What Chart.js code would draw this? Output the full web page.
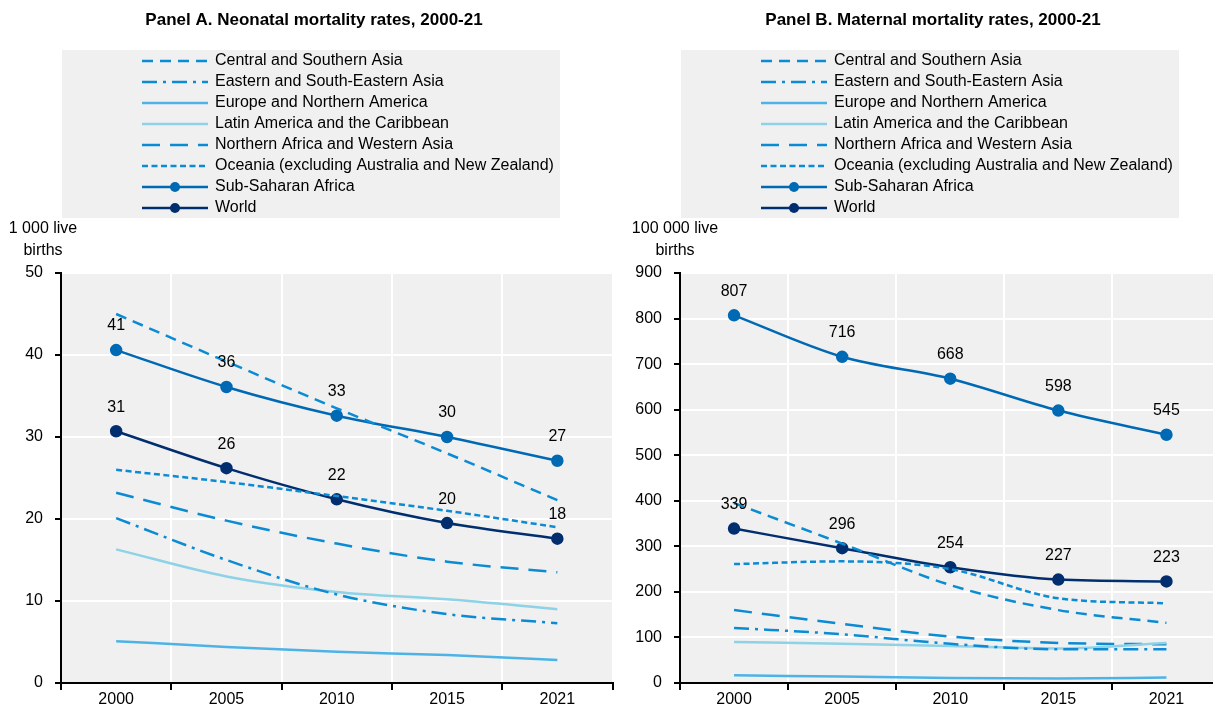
<!DOCTYPE html>
<html>
<head>
<meta charset="utf-8">
<script src="https://cdn.jsdelivr.net/npm/chart.js@4.4.1/dist/chart.umd.min.js"></script>
<style>
  body { margin: 0; background: #fff; overflow: hidden; width: 1213px; height: 708px; position: relative; }
  .panel { position: absolute; top: 0; height: 708px; }
  #wrapA { left: 0; width: 620px; }
  #wrapB { left: 620px; width: 608px; }
</style>
</head>
<body>
<div class="panel" id="wrapA"><canvas id="panelA"></canvas></div>
<div class="panel" id="wrapB"><canvas id="panelB"></canvas></div>
<script>
const years = ['2000', '2005', '2010', '2015', '2021'];
const regions = [
  'Central and Southern Asia',
  'Eastern and South-Eastern Asia',
  'Europe and Northern America',
  'Latin America and the Caribbean',
  'Northern Africa and Western Asia',
  'Oceania (excluding Australia and New Zealand)',
  'Sub-Saharan Africa',
  'World'
];

// Panel A: neonatal deaths per 1 000 live births
const neoCentralSouthAsia = [45.0, 39.2, 33.5, 28.0, 22.3];
const neoEastSouthEastAsia = [20.1, 15.0, 10.8, 8.4, 7.3];
const neoEuropeNorthAmerica = [5.1, 4.4, 3.8, 3.4, 2.8];
const neoLatinAmerica = [16.3, 13.0, 11.1, 10.2, 9.0];
const neoNorthAfricaWestAsia = [23.2, 19.8, 17.0, 14.8, 13.5];
const neoOceania = [26.0, 24.5, 22.8, 21.0, 19.0];
const neoSubSaharan = [40.6, 36.1, 32.6, 30.0, 27.1];
const neoWorld = [30.7, 26.2, 22.4, 19.5, 17.6];
const neoTicks = [0, 10, 20, 30, 40, 50];

// Panel B: maternal deaths per 100 000 live births
const matCentralSouthAsia = [395, 306, 215, 160, 132];
const matEastSouthEastAsia = [121, 107, 86, 74, 74];
const matEuropeNorthAmerica = [17, 14, 11, 10, 12];
const matLatinAmerica = [90, 86, 81, 76, 88];
const matNorthAfricaWestAsia = [160, 130, 102, 88, 85];
const matOceania = [261, 267, 250, 186, 175];
const matSubSaharan = [807, 716, 668, 598, 545];
const matWorld = [339, 296, 254, 227, 223];
const matTicks = [0, 100, 200, 300, 400, 500, 600, 700, 800, 900];

const FONT = "'Liberation Sans', Arial, sans-serif";
const BLUE = '#0a8bd3';
const styles = [
  { color: BLUE, dash: [11, 7], points: false },
  { color: BLUE, dash: [15, 6, 3, 6], points: false },
  { color: '#4db3e6', dash: [], points: false },
  { color: '#8dd2e6', dash: [], points: false },
  { color: BLUE, dash: [18, 10], points: false },
  { color: BLUE, dash: [6, 3.5], points: false },
  { color: '#0069b4', dash: [], points: true },
  { color: '#002e6e', dash: [], points: true }
];

function makeDatasets(series) {
  return series.map((data, i) => ({
    label: regions[i],
    data: data,
    borderColor: styles[i].color,
    backgroundColor: styles[i].color,
    borderDash: styles[i].dash,
    borderWidth: 2.5,
    pointRadius: styles[i].points ? 5 : 0,
    pointHoverRadius: styles[i].points ? 5 : 0,
    cubicInterpolationMode: 'monotone',
    showLabels: styles[i].points,
    fill: false
  }));
}

// plot background, legend box, titles and point labels
const decor = {
  id: 'decor',
  beforeDraw(chart) {
    const a = chart.chartArea, ctx = chart.ctx;
    ctx.save();
    ctx.fillStyle = '#f0f0f0';
    ctx.fillRect(a.left, a.top, a.right - a.left, a.bottom - a.top);
    ctx.restore();
  },
  afterDraw(chart, args, opts) {
    const a = chart.chartArea, ctx = chart.ctx;
    const left = a.left + 1;
    ctx.save();
    // panel title
    ctx.fillStyle = '#000';
    ctx.font = 'bold 17px ' + FONT;
    ctx.textAlign = 'center';
    ctx.textBaseline = 'middle';
    ctx.fillText(opts.title, left + 252, 20);
    // legend
    ctx.fillStyle = '#f0f0f0';
    ctx.fillRect(left, 50, 498, 168);
    chart.data.datasets.forEach((ds, i) => {
      const y = 61 + i * 21;
      ctx.strokeStyle = ds.borderColor;
      ctx.lineWidth = 2.5;
      ctx.setLineDash(ds.borderDash);
      ctx.beginPath();
      ctx.moveTo(left + 80, y);
      ctx.lineTo(left + 146, y);
      ctx.stroke();
      ctx.setLineDash([]);
      if (ds.pointRadius > 0) {
        ctx.fillStyle = ds.borderColor;
        ctx.beginPath();
        ctx.arc(left + 113, y, 5, 0, Math.PI * 2);
        ctx.fill();
      }
      ctx.fillStyle = '#000';
      ctx.font = '16px ' + FONT;
      ctx.textAlign = 'left';
      ctx.fillText(ds.label, left + 153, y);
    });
    // y axis unit
    ctx.font = '16px ' + FONT;
    ctx.textAlign = 'center';
    ctx.fillText(opts.unit[0], opts.unitX, 229);
    ctx.fillText(opts.unit[1], opts.unitX, 251);
    // point labels
    ctx.font = '16px ' + FONT;
    chart.data.datasets.forEach((ds, i) => {
      if (!ds.showLabels) return;
      chart.getDatasetMeta(i).data.forEach((pt, j) => {
        ctx.fillText(String(Math.round(ds.data[j])), pt.x, pt.y - 24);
      });
    });
    ctx.restore();
  }
};

function makeChart(id, series, ticks, yWidth, opts) {
  return new Chart(document.getElementById(id), {
    type: 'line',
    data: { labels: years, datasets: makeDatasets(series) },
    plugins: [decor],
    options: {
      responsive: true,
      maintainAspectRatio: false,
      animation: false,
      layout: { padding: { top: 273, left: 0, right: opts.padRight, bottom: 0 } },
      plugins: {
        legend: { display: false },
        tooltip: { enabled: false },
        decor: opts
      },
      scales: {
        x: {
          offset: true,
          grid: { offset: true, color: '#ffffff', lineWidth: 2, tickColor: '#000', tickLength: 7, drawOnChartArea: true },
          border: { color: '#000', width: 2 },
          ticks: { color: '#000', font: { family: FONT, size: 16 }, padding: 0, maxRotation: 0 },
          afterFit(scale) { scale.height = 25; }
        },
        y: {
          min: ticks[0],
          max: ticks[ticks.length - 1],
          afterBuildTicks(scale) { scale.ticks = ticks.map(v => ({ value: v })); },
          grid: { color: '#ffffff', lineWidth: 2, tickColor: '#000', tickLength: 6 },
          border: { color: '#000', width: 2 },
          ticks: { color: '#000', font: { family: FONT, size: 16 }, padding: 12 },
          afterFit(scale) { scale.width = yWidth; }
        }
      }
    }
  });
}

makeChart('panelA',
  [neoCentralSouthAsia, neoEastSouthEastAsia, neoEuropeNorthAmerica, neoLatinAmerica,
   neoNorthAfricaWestAsia, neoOceania, neoSubSaharan, neoWorld],
  neoTicks, 61,
  { title: 'Panel A. Neonatal mortality rates, 2000-21', unit: ['1 000 live', 'births'], unitX: 43, padRight: 2 });

makeChart('panelB',
  [matCentralSouthAsia, matEastSouthEastAsia, matEuropeNorthAmerica, matLatinAmerica,
   matNorthAfricaWestAsia, matOceania, matSubSaharan, matWorld],
  matTicks, 60,
  { title: 'Panel B. Maternal mortality rates, 2000-21', unit: ['100 000 live', 'births'], unitX: 55, padRight: 0 });
</script>
</body>
</html>
